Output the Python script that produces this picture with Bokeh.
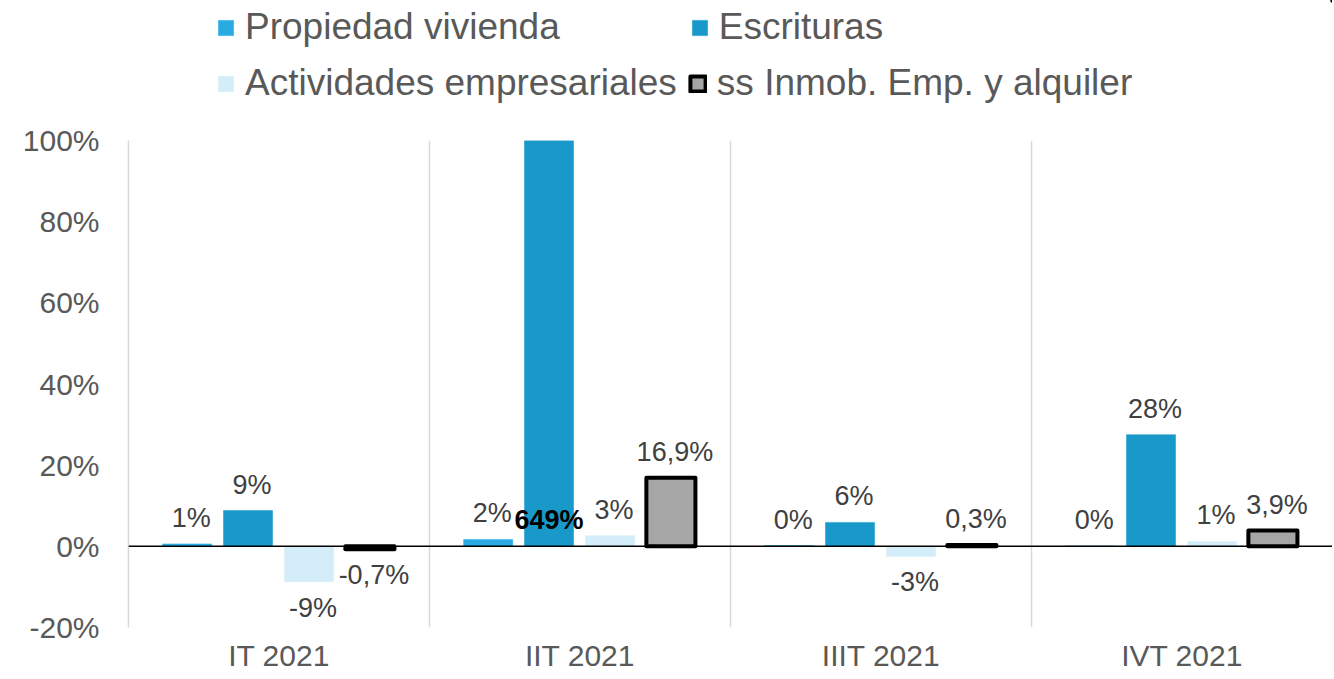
from bokeh.plotting import figure
from bokeh.layouts import column
from bokeh.models import (Range1d, FixedTicker, Span, Legend, LegendItem,
                          ColumnDataSource, LabelSet, PrintfTickFormatter)
from bokeh.core.properties import value
from bokeh.embed import file_html
from bokeh.resources import INLINE

# ---- data ----
categories = ["IT 2021", "IIT 2021", "IIIT 2021", "IVT 2021"]
series_names = ["Propiedad vivienda", "Escrituras",
                "Actividades empresariales", "ss Inmob. Emp. y alquiler"]
propiedad = [0.6, 1.7, 0.2, 0.1]
escrituras = [8.8, 649.0, 5.9, 27.5]
actividades = [-8.7, 2.6, -2.5, 1.2]
ss_inmob = [-0.7, 16.9, 0.3, 3.9]
propiedad_labels = ["1%", "2%", "0%", "0%"]
escrituras_labels = ["9%", "649%", "6%", "28%"]
actividades_labels = ["-9%", "3%", "-3%", "1%"]
ss_labels = ["-0,7%", "16,9%", "0,3%", "3,9%"]
y_ticks = [-20, 0, 20, 40, 60, 80, 100]

# ---- styles ----
colors = ["#29ABE2", "#1899C9", "#D3EEF9", "#A6A6A6"]
offsets = [-0.305, -0.103, 0.1, 0.302]
bar_w = 0.163
FONT = "Liberation Sans"
W = 1332
LEG_H = 120
TOP_PAD = 20


def bar_style(k):
    if k == 3:
        return dict(fill_color=colors[k], line_color="black", line_width=4,
                    line_join="round")
    return dict(fill_color=colors[k], line_color=colors[k], line_width=0.5)


centers = [i + 0.5 for i in range(len(categories))]

p = figure(width=W, height=555, x_range=Range1d(0, len(categories)),
           y_range=Range1d(-20, 100), output_backend="svg",
           toolbar_location=None, min_border_left=128, min_border_right=0,
           min_border_top=TOP_PAD, min_border_bottom=48)
p.outline_line_color = None
p.background_fill_color = "white"

# axes
p.xaxis.ticker = FixedTicker(ticks=centers)
p.xaxis.major_label_overrides = {c: lab for c, lab in zip(centers, categories)}
p.xaxis.axis_line_color = None
p.xaxis.major_tick_line_color = None
p.xaxis.major_tick_out = 0
p.xaxis.major_tick_in = 0
p.xaxis.minor_tick_line_color = None
p.xaxis.major_label_standoff = 11
p.xaxis.major_label_text_font = FONT
p.xaxis.major_label_text_font_size = "30px"
p.xaxis.major_label_text_color = "#595959"

p.yaxis.ticker = FixedTicker(ticks=y_ticks)
p.yaxis.formatter = PrintfTickFormatter(format="%d%%")
p.yaxis.axis_line_color = "#D9D9D9"
p.yaxis.axis_line_width = 1.5
p.yaxis.major_tick_line_color = None
p.yaxis.major_tick_out = 0
p.yaxis.major_tick_in = 0
p.yaxis.minor_tick_line_color = None
p.yaxis.major_label_standoff = 29
p.yaxis.major_label_text_font = FONT
p.yaxis.major_label_text_font_size = "30px"
p.yaxis.major_label_text_color = "#595959"

p.ygrid.grid_line_color = None
p.xgrid.ticker = FixedTicker(ticks=list(range(len(categories) + 1)))
p.xgrid.grid_line_color = "#D9D9D9"
p.xgrid.grid_line_width = 1.5

# bars
all_vals = [propiedad, escrituras, actividades, ss_inmob]
all_labels = [propiedad_labels, escrituras_labels, actividades_labels, ss_labels]
sources = []
renderers = []
for k, vals in enumerate(all_vals):
    xs = [c + offsets[k] for c in centers]
    src = ColumnDataSource(dict(x=xs, top=vals))
    sources.append(src)
    r = p.vbar(x="x", top="top", bottom=0, width=bar_w, source=src,
               **bar_style(k))
    renderers.append(r)

# zero line
p.add_layout(Span(location=0, dimension="width", line_color="black",
                  line_width=1.5))
renderers[3].level = "overlay"

# data labels
for k, (vals, labs) in enumerate(zip(all_vals, all_labels)):
    xs, ys, ts, yo = [], [], [], []
    bx, by, bt, byo = [], [], [], []
    for i, (v, t) in enumerate(zip(vals, labs)):
        x = centers[i] + offsets[k]
        if v > 100:  # clipped value: label drawn in bold near the base
            bx.append(x); by.append(0); bt.append(t); byo.append(26)
            continue
        xs.append(x); ys.append(v); ts.append(t)
        yo.append(26 if v >= 0 else -26)
    src = ColumnDataSource(dict(x=xs, y=ys, text=ts, yo=yo))
    p.add_layout(LabelSet(x="x", y="y", text="text", source=src,
                          y_offset="yo", x_offset=4, text_align="center",
                          text_baseline="middle", text_font=value(FONT),
                          text_font_size=value("27px"), text_color="#404040"))
    if bx:
        src2 = ColumnDataSource(dict(x=bx, y=by, text=bt, yo=byo))
        p.add_layout(LabelSet(x="x", y="y", text="text", source=src2,
                              y_offset="yo", x_offset=0, text_align="center",
                              text_baseline="middle", text_font=value(FONT),
                              text_font_size=value("27px"),
                              text_font_style="bold",
                              text_color="black", level="overlay"))

# ---- legend strip above the plot (its view range shows no bars) ----
lf = figure(width=W, height=LEG_H, x_range=Range1d(-1000, -999),
            y_range=Range1d(-1000, -999), output_backend="svg",
            toolbar_location=None, min_border=0)
lf.axis.visible = False
lf.grid.visible = False
lf.outline_line_color = None
proxies = [lf.vbar(x="x", top="top", bottom=0, width=bar_w, source=sources[k],
                   **bar_style(k)) for k in range(4)]


def make_legend(idx, loc, spacing):
    leg = Legend(items=[LegendItem(label=series_names[i], renderers=[proxies[i]])
                        for i in idx],
                 location=loc, orientation="horizontal", spacing=spacing,
                 padding=0, margin=0, glyph_width=19, glyph_height=19,
                 label_standoff=10, label_height=40,
                 label_text_font=FONT, label_text_font_size="37px",
                 label_text_color="#595959", border_line_color=None,
                 background_fill_alpha=0)
    lf.add_layout(leg, "center")


make_legend([0, 1], (88, 72), 130)
make_legend([2, 3], (88, 16), 11)

open("out.html", "w").write(file_html(column(lf, p), INLINE))
